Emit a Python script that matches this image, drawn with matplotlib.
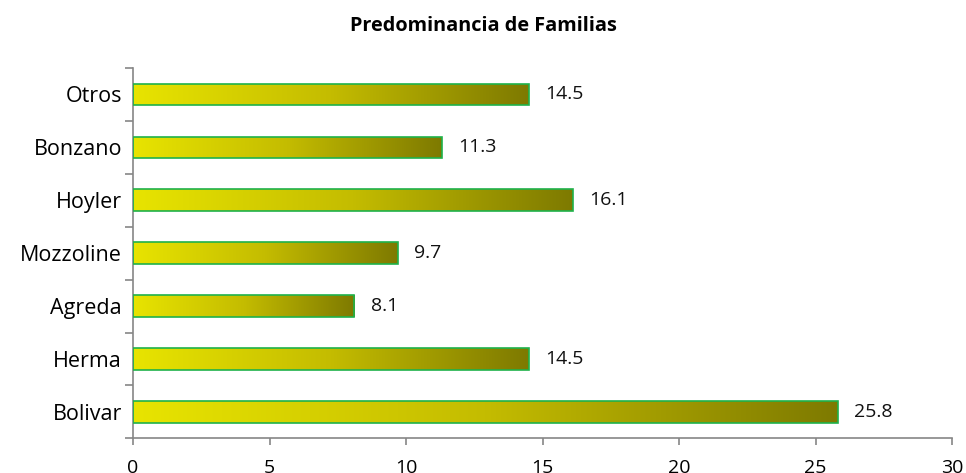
import numpy as np
import matplotlib.pyplot as plt
from matplotlib.colors import LinearSegmentedColormap

# Data
familias = ["Bolivar", "Herma", "Agreda", "Mozzoline", "Hoyler", "Bonzano", "Otros"]
porcentajes = [25.8, 14.5, 8.1, 9.7, 16.1, 11.3, 14.5]
x_ticks = [0, 5, 10, 15, 20, 25, 30]

plt.rcParams['font.family'] = ['Open Sans', 'DejaVu Sans']

grad = LinearSegmentedColormap.from_list("olive", ["#e8e400", "#c4bc00", "#7e7a00"])
gray = "#868686"

fig = plt.figure(figsize=(9.66, 4.73), dpi=100)
ax = fig.add_axes([0.1377, 0.073, 0.848, 0.784])

y = np.arange(len(familias))
bars = ax.barh(y, porcentajes, height=0.4, color="none", edgecolor="#1fb24a",
               linewidth=1.2, zorder=3)

# per-bar horizontal gradient clipped to the bar
g = np.linspace(0, 1, 256).reshape(1, -1)
for b in bars:
    x0, y0 = b.get_x(), b.get_y()
    w, h = b.get_width(), b.get_height()
    im = ax.imshow(g, cmap=grad, aspect="auto", extent=[x0, x0 + w, y0, y0 + h],
                   zorder=2, interpolation="bilinear")
    im.set_clip_path(b)
    ax.text(x0 + w + 0.6, y0 + h / 2, f"{w:.1f}", va="center", ha="left",
            fontsize=14, color="#111111")

ax.set_xlim(0, 30)
ax.set_ylim(-0.5, len(familias) - 0.5)
ax.set_xticks(x_ticks)
ax.set_xticklabels([str(t) for t in x_ticks], fontsize=14)
ax.set_yticks(y)
ax.set_yticklabels(familias, fontsize=15.5)
ax.tick_params(axis="y", length=0, pad=8)
ax.set_yticks(np.arange(-0.5, len(familias)), minor=True)
ax.tick_params(axis="y", which="minor", length=6, color=gray, width=1.2)
ax.tick_params(axis="x", length=5, color=gray, width=1.2, pad=10)

for s in ["top", "right"]:
    ax.spines[s].set_visible(False)
for s in ["left", "bottom"]:
    ax.spines[s].set_color(gray)
    ax.spines[s].set_linewidth(1.2)

fig.text(0.5, 0.945, "Predominancia de Familias", ha="center", va="center",
         fontsize=14.3, fontweight="bold")

fig.savefig("out.png", dpi=100)
